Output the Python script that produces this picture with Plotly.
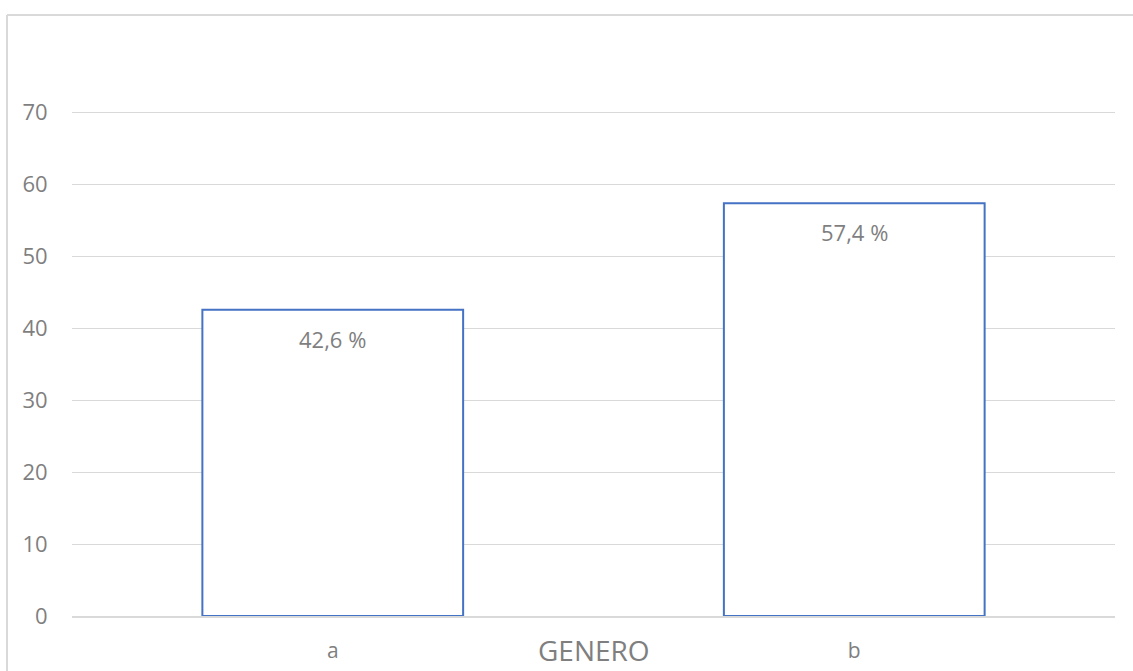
import plotly.graph_objects as go

categories = ["a", "b"]
values = [42.6, 57.4]
value_labels = ["42,6 %", "57,4 %"]
y_ticks = [0, 10, 20, 30, 40, 50, 60, 70]
axis_title = "GENERO"

GRAY = "#7F7F7F"
GRID = "#D9D9D9"
BLUE = "#4472C4"
FONT = "Open Sans"

fig = go.Figure()
fig.add_trace(go.Bar(
    x=categories, y=values, width=0.5,
    marker=dict(color="white", line=dict(color=BLUE, width=2)),
    hoverinfo="skip",
))

for c, v, t in zip(categories, values, value_labels):
    fig.add_annotation(x=c, y=v, text=t, showarrow=False, yanchor="top",
                       yshift=-12, font=dict(family=FONT, size=22, color=GRAY))

L, R, T, B = 72, 18, 109, 55
pw, ph = 1133 - L - R, 671 - T - B

fig.add_annotation(xref="paper", yref="paper", x=0.5, y=-34 / ph, text=axis_title,
                   showarrow=False, yanchor="middle", xanchor="center",
                   font=dict(family=FONT, size=28, color=GRAY))

# chart border (left and top edges visible)
bx = (7 - L) / pw
by = (671 - B - 15) / ph
fig.add_shape(type="line", xref="paper", yref="paper", x0=bx, x1=bx, y0=-0.2, y1=by,
              line=dict(color=GRID, width=2))
fig.add_shape(type="line", xref="paper", yref="paper", x0=bx, x1=1.1, y0=by, y1=by,
              line=dict(color=GRID, width=2))

fig.update_layout(
    width=1133, height=671,
    margin=dict(l=L, r=R, t=T, b=B),
    paper_bgcolor="white", plot_bgcolor="white",
    showlegend=False,
    font=dict(family=FONT, size=22, color=GRAY),
    xaxis=dict(showgrid=False, showline=True, linecolor=GRID, linewidth=1.5,
               automargin=False,
               ticks="outside", ticklen=15, tickcolor="rgba(0,0,0,0)",
               tickfont=dict(family=FONT, size=21, color=GRAY)),
    yaxis=dict(range=[0, 70.5], tickvals=y_ticks, showgrid=True, gridcolor=GRID,
               gridwidth=1.2, zeroline=False, showline=False, automargin=False,
               ticks="outside", ticklen=19, tickcolor="rgba(0,0,0,0)",
               tickfont=dict(family=FONT, size=22, color=GRAY)),
)

fig.write_html("out.html")
